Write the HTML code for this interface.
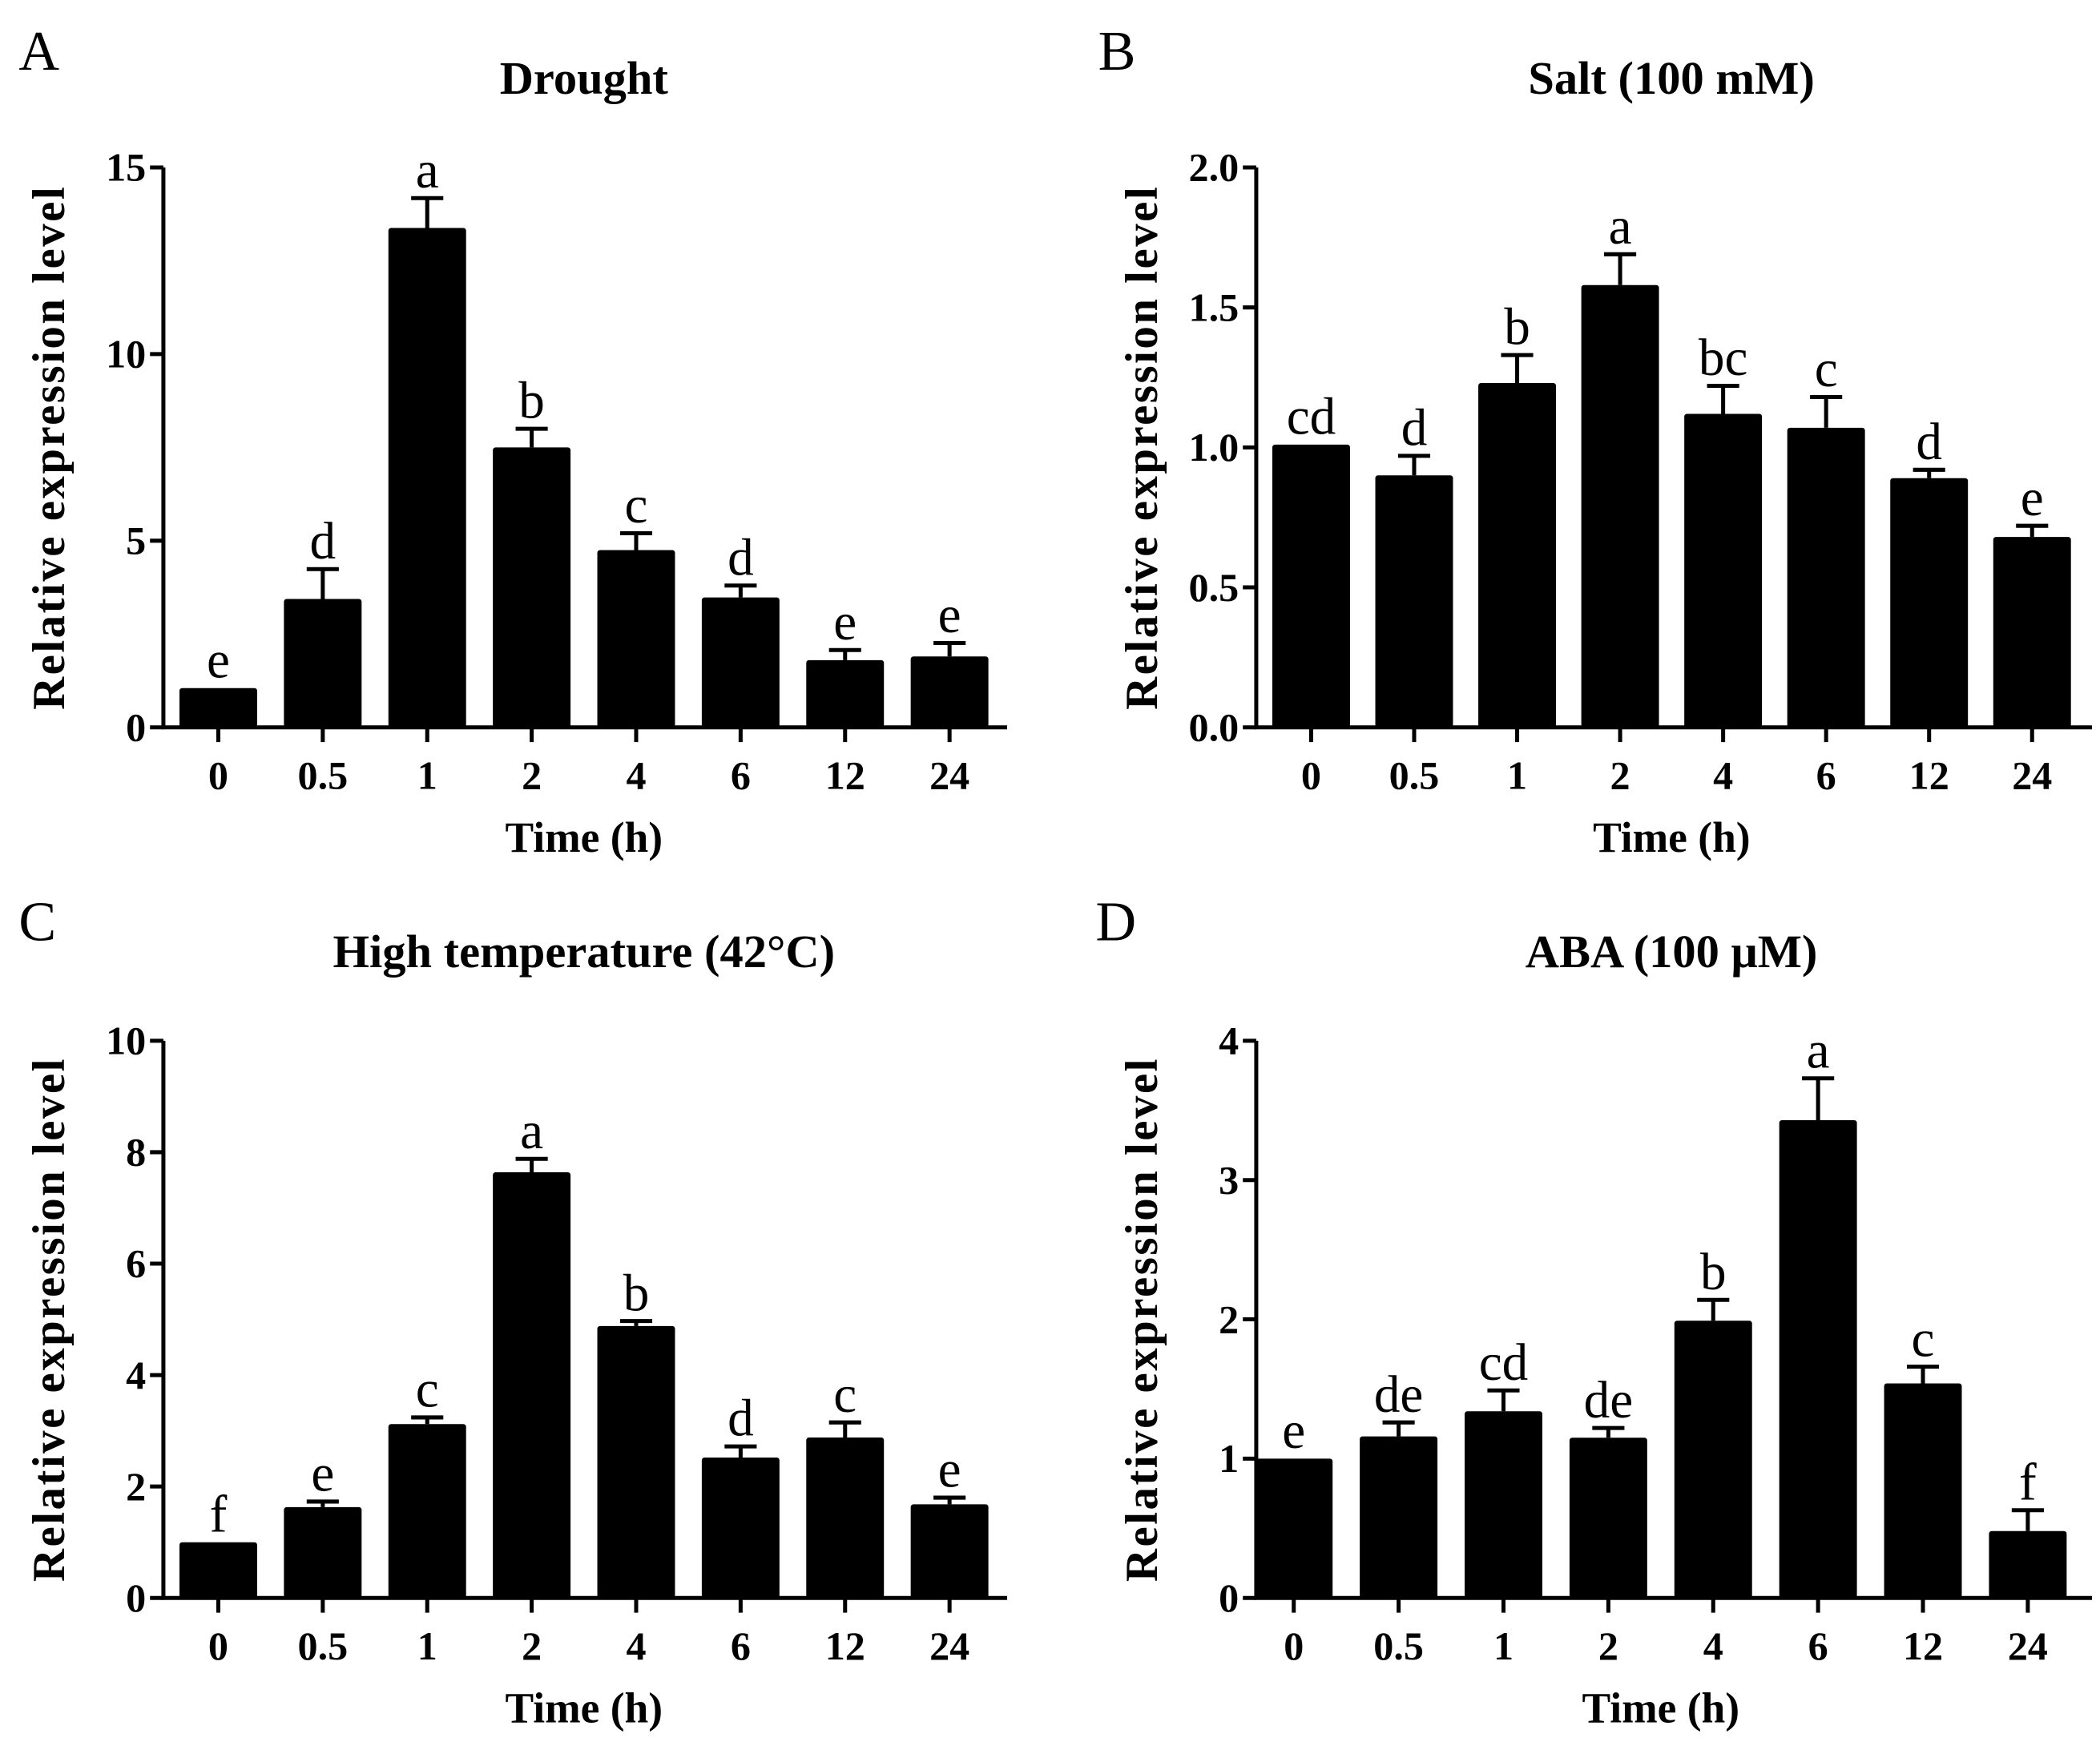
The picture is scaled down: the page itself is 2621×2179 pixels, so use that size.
<!DOCTYPE html>
<html><head><meta charset="utf-8"><style>
html,body{margin:0;padding:0;background:#fff;}
svg{display:block;}
text{font-family:"Liberation Serif","DejaVu Serif",serif;fill:#000;}
</style></head><body>
<svg id="fig" xmlns="http://www.w3.org/2000/svg" width="2621" height="2179" viewBox="0 0 1568 1303.5"></svg>
<script>
const categories = ["0","0.5","1","2","4","6","12","24"];
const valuesA = [1.05,3.44,13.38,7.5,4.75,3.48,1.8,1.9];
const errA = [0,0.8,0.8,0.5,0.45,0.32,0.27,0.36];
const lettersA = ["e","d","a","b","c","d","e","e"];
const ticksA = [0,5,10,15];
const valuesB = [1.01,0.9,1.23,1.58,1.12,1.07,0.89,0.68];
const errB = [0,0.07,0.1,0.11,0.1,0.11,0.03,0.04];
const lettersB = ["cd","d","b","a","bc","c","d","e"];
const ticksB = [0,0.5,1.0,1.5,2.0];
const valuesC = [1.0,1.63,3.12,7.64,4.88,2.52,2.88,1.68];
const errC = [0,0.1,0.12,0.24,0.09,0.2,0.27,0.12];
const lettersC = ["f","e","c","a","b","d","c","e"];
const ticksC = [0,2,4,6,8,10];
const valuesD = [1.0,1.16,1.34,1.15,1.99,3.43,1.54,0.48];
const errD = [0,0.1,0.15,0.07,0.15,0.3,0.12,0.15];
const lettersD = ["e","de","cd","de","b","a","c","f"];
const ticksD = [0,1,2,3,4];

const NS="http://www.w3.org/2000/svg";
const svg=document.getElementById('fig');
function mk(tag,attrs,parent){const e=document.createElementNS(NS,tag);for(const k in attrs)e.setAttribute(k,attrs[k]);(parent||svg).appendChild(e);return e;}

function panel(cfg){
  const g=mk('g',{});
  
  
  const {ax,y0,ytop,ymax,x0,step,xend}=cfg;
  const yS=v=>y0-(v/ymax)*(y0-ytop);
  const xS=i=>x0+i*step;
  const bw=58;
  const pl=mk('text',{x:cfg.lx,y:cfg.ly,'font-size':42},g);pl.textContent=cfg.id;
  
  
  const t=mk('text',{x:cfg.tx,y:cfg.ty,'font-size':35,'font-weight':'bold','text-anchor':'middle'},g);t.textContent=cfg.title;
  
  
  cfg.values.forEach((v,i)=>{
    const cx=xS(i);
    const r=mk('rect',{x:cx-bw/2,y:yS(v),width:bw,height:y0-yS(v),fill:'#000',rx:2},g);
    
    
    const e=cfg.err[i];
    let top=yS(v);
    if(e>0){
      top=yS(v+e);
      const l=mk('path',{d:`M${cx},${yS(v)}V${top}M${cx-12},${top}H${cx+12}`,stroke:'#000','stroke-width':3,fill:'none'},g);
      
      
    }
    const lt=mk('text',{x:cx,y:top-8,'font-size':39,'text-anchor':'middle'},g);lt.textContent=cfg.letters[i];
    
    
    const tk=mk('line',{x1:cx,x2:cx,y1:y0,y2:y0+11,stroke:'#000','stroke-width':3},g);
    
    
    const tl=mk('text',{x:cx,y:y0+46,'font-size':30,'font-weight':'bold','text-anchor':'middle'},g);tl.textContent=categories[i];
    
    
  });
  const axl=mk('path',{d:`M${ax},${ytop}V${y0}H${xend}`,stroke:'#000','stroke-width':3,fill:'none'},g);
  
  
  cfg.ticks.forEach(v=>{
    const tk=mk('line',{x1:ax-10,x2:ax,y1:yS(v),y2:yS(v),stroke:'#000','stroke-width':3},g);
    
    
    const tl=mk('text',{x:ax-13,y:yS(v)+10,'font-size':30,'font-weight':'bold','text-anchor':'end'},g);
    tl.textContent=cfg.fmt(v);
    
    
  });
  const yt=mk('text',{x:0,y:0,'font-size':34,'font-weight':'bold','text-anchor':'middle','letter-spacing':1.5,transform:`translate(${ax-74},${(y0+ytop)/2}) rotate(-90)`},g);
  yt.textContent='Relative expression level';
  
  
  const xt=mk('text',{x:(x0+xS(7))/2,y:y0+93,'font-size':32,'font-weight':'bold','text-anchor':'middle'},g);
  xt.textContent='Time (h)';
  
  
}
panel({id:'A',title:'Drought',lx:14,ly:52,tx:436,ty:70,ax:122,y0:543,ytop:125,ymax:15,x0:163,step:78,xend:752,values:valuesA,err:errA,letters:lettersA,ticks:ticksA,fmt:v=>String(v)});
panel({id:'B',title:'Salt (100 mM)',lx:820,ly:52,tx:1248,ty:70,ax:938,y0:543,ytop:125,ymax:2,x0:979,step:76.9,xend:1562,values:valuesB,err:errB,letters:lettersB,ticks:ticksB,fmt:v=>v.toFixed(1)});
panel({id:'C',title:'High temperature (42°C)',lx:14,ly:702,tx:436,ty:722,ax:122,y0:1193,ytop:777,ymax:10,x0:163,step:78,xend:752,values:valuesC,err:errC,letters:lettersC,ticks:ticksC,fmt:v=>String(v)});
panel({id:'D',title:'ABA (100 μM)',lx:818,ly:702,tx:1248,ty:722,ax:938,y0:1193,ytop:777,ymax:4,x0:966,step:78.3,xend:1562,values:valuesD,err:errD,letters:lettersD,ticks:ticksD,fmt:v=>String(v)});
</script>
</body></html>
